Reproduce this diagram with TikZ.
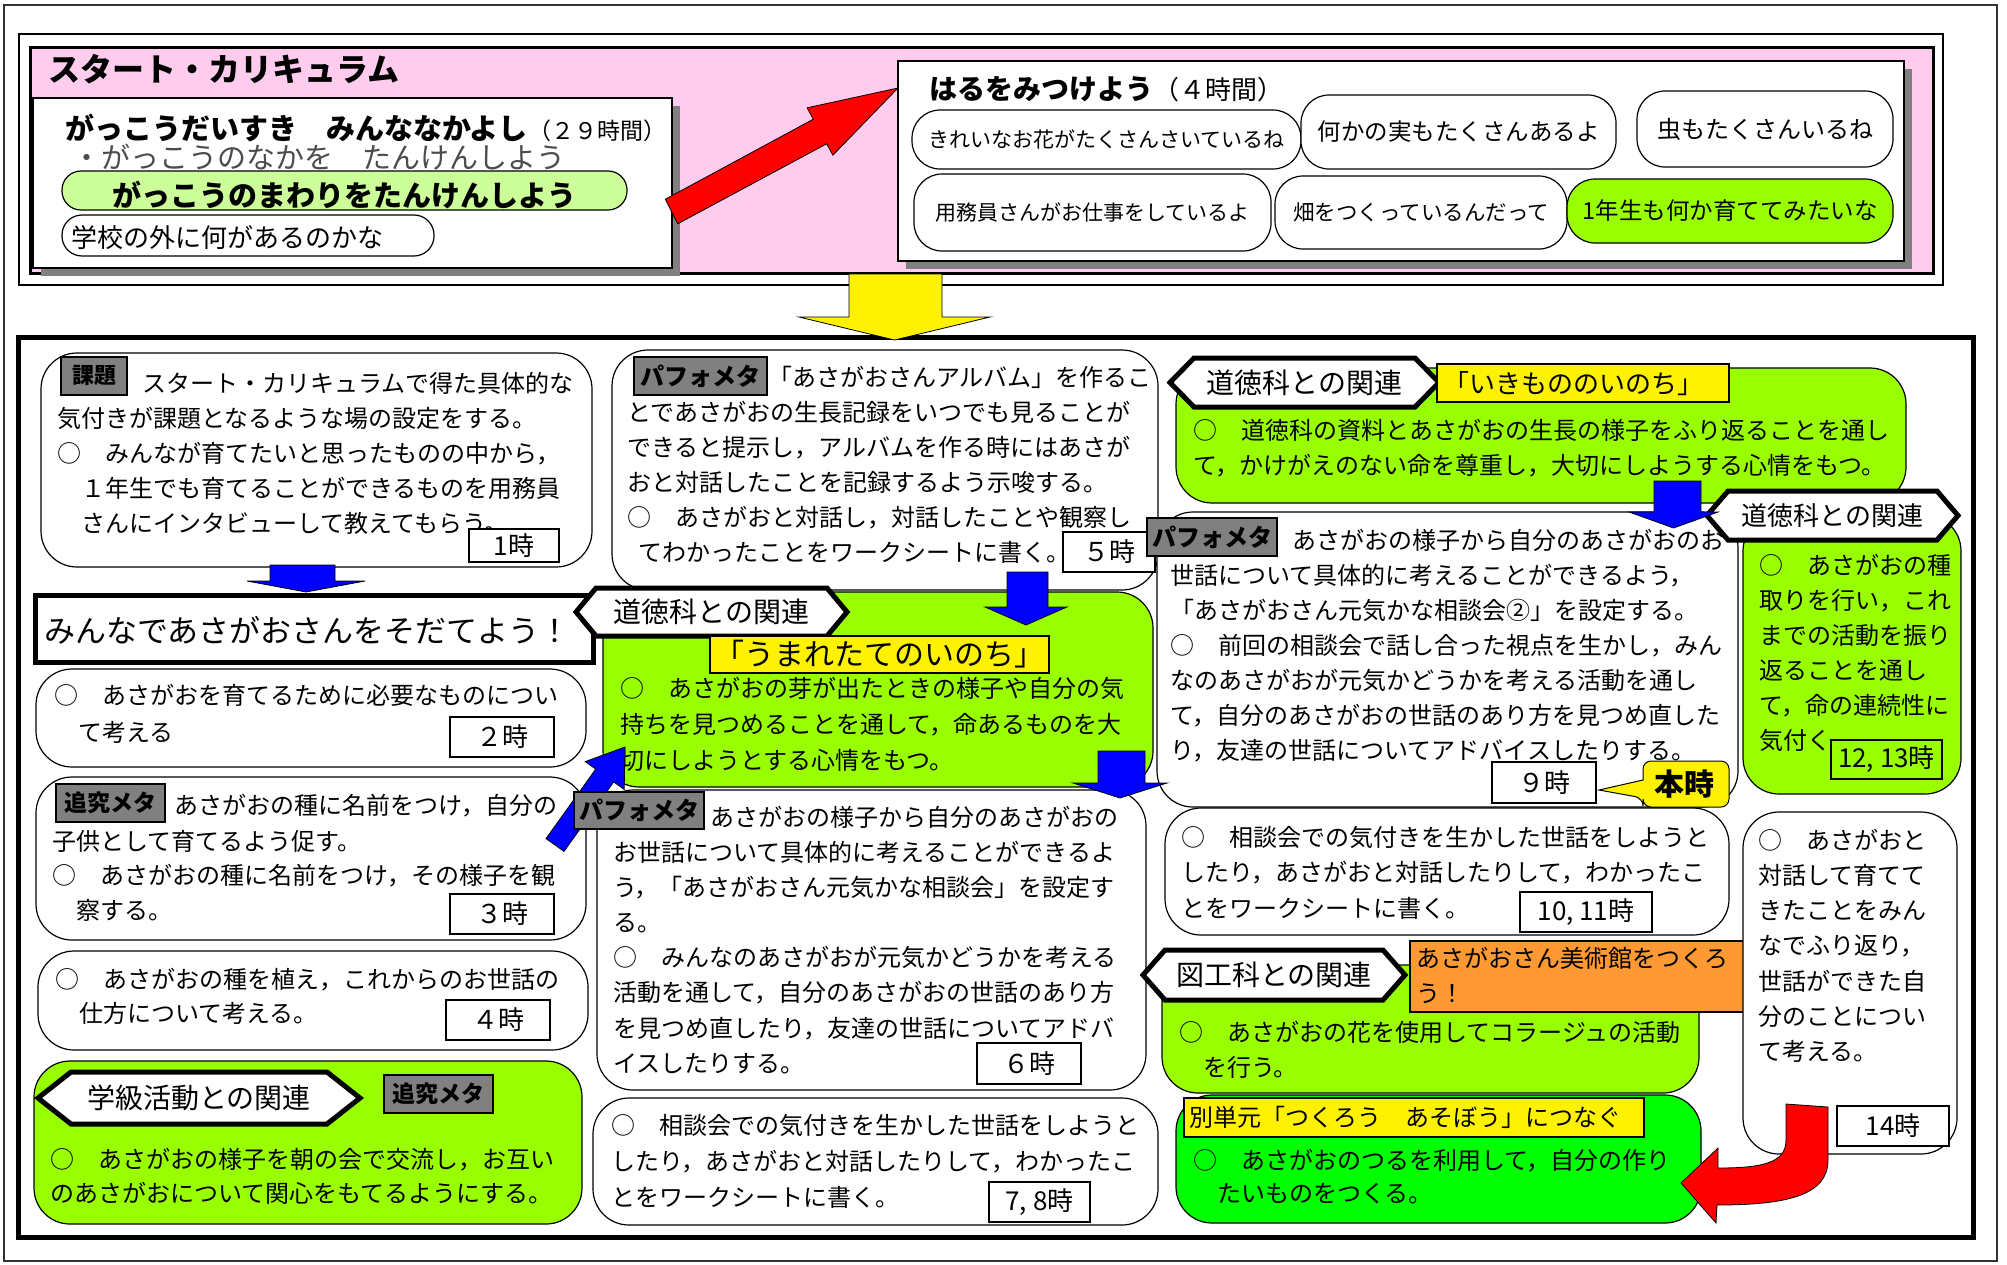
\documentclass[tikz,border=0pt]{standalone}
\usepackage{fontspec}
\setmainfont{Noto Sans CJK JP}
\usetikzlibrary{fit}
\definecolor{pinkbg}{HTML}{FFCCEE}
\definecolor{lgreen}{HTML}{99FF00}
\definecolor{pillgreen}{HTML}{CCFF99}
\definecolor{vgreen}{HTML}{00FF00}
\definecolor{metagray}{HTML}{808080}
\definecolor{artorange}{HTML}{FF9933}
\tikzstyle{kbox} = [draw, fill=white, rounded corners=36pt, line width=1.2pt, inner sep=0pt]
\tikzstyle{gbox} = [kbox, fill=lgreen]
\tikzstyle{pill} = [draw, fill=white, rounded corners=28pt, line width=1.2pt, inner sep=0pt]
\tikzstyle{tag} = [draw, line width=2pt, inner sep=0pt]
\tikzstyle{hour} = [tag, fill=white, font=\fontsize{26}{26}\selectfont]
\tikzstyle{meta} = [tag, fill=metagray, font=\bfseries\fontsize{23}{23}\selectfont]
\tikzstyle{txt} = [inner sep=0pt, anchor=base west, font=\fontsize{24}{24}\selectfont]
\tikzstyle{hexline} = [draw, fill=white, line width=5pt, line join=miter]
\tikzstyle{blk} = [draw, line width=0.8pt]
\tikzstyle{shadow} = [fill=metagray]
\newcommand{\txtrows}[5]{%
  \foreach \t [count=\i] in {#5}
    \node[txt] (#1-\i) at (#2,{#3+(\i-1)*#4}) {\t};}
\newcommand{\tagbox}[5]{%
  \node[#1, fit={#2 #3}] (#4) {};
  \node[#1, draw=none, fill=none, inner sep=0pt] (#4-t) at (#4.center) {#5};}
\newcommand{\hexlab}[8]{%
  \draw[hexline] (#2,{(#3+#5)/2}) -- (#2+#6,#3) -- (#4-#6,#3) -- (#4,{(#3+#5)/2}) -- (#4-#6,#5) -- (#2+#6,#5) -- cycle;
  \node[inner sep=0pt, font=\fontsize{#7}{#7}\selectfont] (#1) at ({(#2+#4)/2},{(#3+#5)/2}) {#8};}
\newcommand{\dnarrow}[8]{%
  \draw[blk, fill=#1] (#2,#4) -- (#3,#4) -- (#3,#7) -- (#6,#7) -- ({(#5+#6)/2},#8) -- (#5,#7) -- (#2,#7) -- cycle;}
\begin{document}
\begin{tikzpicture}[x=1pt, y=-1pt]
    \useasboundingbox (0,0) rectangle (2007,1264);
    \draw[line width=2.5pt, black!80] (4,5) rectangle (1997,1261);
    \draw[line width=2pt] (19,34) rectangle (1943,285);
    \draw[line width=3pt, fill=pinkbg] (30,47) rectangle (1933,273);
    \draw[line width=5pt] (18,337) rectangle (1973,1237);
    % start curriculum
    \node[inner sep=0pt, anchor=base west, font=\bfseries\fontsize{32}{32}\selectfont] (title) at (48,81) {スタート・カリキュラム};
    \fill[shadow] (41,106) rectangle (680,276);
    \node[tag, fill=white, line width=2.5pt, fit={(33,98) (672,268)}] (school) {};
    \node[inner sep=0pt, anchor=base west, font=\bfseries\fontsize{29}{29}\selectfont] (school-t) at (65,139) {がっこうだいすき　みんななかよし};
    \node[inner sep=0pt, anchor=base west, font=\fontsize{23}{23}\selectfont] (school-h) at (school-t.base east) {（２９時間）};
    \node[inner sep=0pt, anchor=base west, font=\fontsize{29}{29}\selectfont, text=black!70] (school-s) at (72,168) {・がっこうのなかを　たんけんしよう};
    \node[pill, fill=pillgreen, rounded corners=19pt, fit={(62,171) (627,210)}] (round) {};
    \node[inner sep=0pt, font=\bfseries\fontsize{29}{29}\selectfont] (round-t) at (344,195) {がっこうのまわりをたんけんしよう};
    \node[pill, rounded corners=20pt, fit={(62,215) (434,256)}] (outside) {};
    \node[txt, font=\fontsize{26}{26}\selectfont] (outside-t) at (71,247) {学校の外に何があるのかな};
    \draw[blk, fill=red] (665.3,199.2) -- (813.3,119.2) -- (807.1,107.8) -- (898,88) -- (832.9,155.2) -- (826.7,143.8) -- (677.7,223.8) -- cycle;
    \fill[shadow] (906,69) rectangle (1912,269);
    \node[tag, fill=white, line width=2.5pt, fit={(898,61) (1904,261)}] (spring) {};
    \node[inner sep=0pt, anchor=base west, font=\bfseries\fontsize{28}{28}\selectfont] (spring-t) at (929,99) {はるをみつけよう};
    \node[inner sep=0pt, anchor=base west, font=\fontsize{26}{26}\selectfont] (spring-h) at (spring-t.base east) {（４時間）};
    \tagbox{pill, font=\fontsize{21}{21}\selectfont}{(912,110)}{(1301,169)}{p1}{きれいなお花がたくさんさいているね}
    \tagbox{pill, font=\fontsize{23.5}{24}\selectfont}{(1301,95)}{(1616,169)}{p2}{何かの実もたくさんあるよ}
    \tagbox{pill, font=\fontsize{24}{24}\selectfont}{(1637,91)}{(1893,167)}{p3}{虫もたくさんいるね}
    \tagbox{pill, font=\fontsize{21}{21}\selectfont}{(914,174)}{(1271,251)}{p4}{用務員さんがお仕事をしているよ}
    \tagbox{pill, font=\fontsize{21.5}{22}\selectfont}{(1275,176)}{(1567,249)}{p5}{畑をつくっているんだって}
    \tagbox{pill, fill=lgreen, font=\fontsize{23.5}{24}\selectfont}{(1567,179)}{(1893,243)}{p6}{1年生も何か育ててみたいな}
    \dnarrow{yellow}{849}{942}{274}{799}{990}{317}{340}
    % left column
    \node[kbox, fit={(41,353) (592,567)}] (kadai) {};
    \tagbox{meta, font=\bfseries\fontsize{22}{22}\selectfont}{(61,357)}{(127,395)}{kadai-m}{課題}
    \node[txt] (kadai-0) at (142,392) {スタート・カリキュラムで得た具体的な};
    \txtrows{kadai}{57}{427}{35}{気付きが課題となるような場の設定をする。, ○　みんなが育てたいと思ったものの中から，, 　１年生でも育てることができるものを用務員, 　さんにインタビューして教えてもらう。}
    \tagbox{hour}{(469,529)}{(559,562)}{h1}{1時}
    \node[tag, fill=white, line width=5pt, fit={(35,595) (593,662)}] (theme) {};
    \node[txt, font=\fontsize{31}{31}\selectfont] (theme-t) at (44,642) {みんなであさがおさんをそだてよう！};
    \node[kbox, fit={(36,669) (586,767)}] (k2) {};
    \txtrows{k2}{54}{704}{37}{○　あさがおを育てるために必要なものについ, 　て考える}
    \tagbox{hour}{(450,717)}{(554,757)}{h2}{２時}
    \node[kbox, fit={(36,777) (586,940)}] (k3) {};
    \tagbox{meta}{(56,784)}{(165,822)}{k3-m}{追究メタ}
    \node[txt] (k3-0) at (174,814) {あさがおの種に名前をつけ，自分の};
    \txtrows{k3}{52}{850}{34.5}{子供として育てるよう促す。, ○　あさがおの種に名前をつけ，その様子を観, 　察する。}
    \tagbox{hour}{(450,894)}{(554,934)}{h3}{３時}
    \node[kbox, fit={(38,951) (588,1050)}] (k4) {};
    \txtrows{k4}{55}{988}{34}{○　あさがおの種を植え，これからのお世話の, 　仕方について考える。}
    \tagbox{hour}{(446,1000)}{(550,1040)}{h4}{４時}
    \node[gbox, fit={(34,1061) (582,1224)}] (k-class) {};
    \hexlab{class-h}{38}{1072}{360}{1124}{33}{28}{学級活動との関連}
    \tagbox{meta}{(384,1075)}{(493,1113)}{class-m}{追究メタ}
    \txtrows{class}{50}{1168}{34}{○　あさがおの様子を朝の会で交流し，お互い, のあさがおについて関心をもてるようにする。}
    % middle column
    \node[kbox, fit={(612,350) (1158,590)}] (k5) {};
    \tagbox{meta, font=\bfseries\fontsize{24}{24}\selectfont}{(634,357)}{(767,395)}{k5-m}{パフォメタ}
    \node[txt] (k5-0) at (768,386) {「あさがおさんアルバム」を作るこ};
    \txtrows{k5}{627}{421}{35}{とであさがおの生長記録をいつでも見ることが, できると提示し，アルバムを作る時にはあさが, おと対話したことを記録するよう示唆する。, ○　あさがおと対話し，対話したことや観察し, \hspace*{11pt}てわかったことをワークシートに書く。}
    \tagbox{hour}{(1063,532)}{(1155,572)}{h5}{５時}
    \node[gbox, fit={(603,592) (1153,787)}] (k-birth) {};
    \hexlab{birth-h}{576}{588}{847}{636}{20}{28}{道徳科との関連}
    \tagbox{tag, fill=yellow, font=\fontsize{30}{30}\selectfont}{(710,636)}{(1049,673)}{birth-l}{「うまれたてのいのち」}
    \txtrows{birth}{620}{697}{36}{○　あさがおの芽が出たときの様子や自分の気, 持ちを見つめることを通して，命あるものを大, 切にしようとする心情をもつ。}
    \node[kbox, fit={(597,790) (1146,1090)}] (k6) {};
    \node[txt] (k6-0) at (710,826) {あさがおの様子から自分のあさがおの};
    \txtrows{k6}{613}{861}{35.2}{お世話について具体的に考えることができるよ, う，「あさがおさん元気かな相談会」を設定す, る。, ○　みんなのあさがおが元気かどうかを考える, 活動を通して，自分のあさがおの世話のあり方, を見つめ直したり，友達の世話についてアドバ, イスしたりする。}
    \tagbox{hour}{(977,1043)}{(1081,1084)}{h6}{６時}
    \node[kbox, fit={(593,1098) (1158,1225)}] (k7) {};
    \txtrows{k7}{611}{1134}{36}{○　相談会での気付きを生かした世話をしようと, したり，あさがおと対話したりして，わかったこ, とをワークシートに書く。}
    \tagbox{hour}{(989,1182)}{(1090,1222)}{h7}{7, 8時}
    % right column
    \node[gbox, fit={(1176,368) (1906,503)}] (k-life) {};
    \hexlab{life-h}{1170}{358}{1439}{407}{24}{28}{道徳科との関連}
    \node[tag, fill=yellow, fit={(1437,364) (1729,402)}] (life-l) {};
    \node[txt, font=\fontsize{26}{26}\selectfont] (life-t) at (1443,393) {「いきもののいのち」};
    \txtrows{life}{1193}{439}{35}{○　道徳科の資料とあさがおの生長の様子をふり返ることを通し, て，かけがえのない命を尊重し，大切にしようする心情をもつ。}
    \node[kbox, fit={(1157,512) (1738,807)}] (k9) {};
    \tagbox{meta, font=\bfseries\fontsize{24}{24}\selectfont}{(1147,518)}{(1277,556)}{k9-m}{パフォメタ}
    \node[txt] (k9-0) at (1292,549) {あさがおの様子から自分のあさがおのお};
    \txtrows{k9}{1170}{584}{35}{世話について具体的に考えることができるよう，, 「あさがおさん元気かな相談会②」を設定する。, ○　前回の相談会で話し合った視点を生かし，みん, なのあさがおが元気かどうかを考える活動を通し, て，自分のあさがおの世話のあり方を見つめ直した, り，友達の世話についてアドバイスしたりする。}
    \tagbox{hour}{(1492,762)}{(1596,803)}{h9}{９時}
    \draw[blk, line width=1pt, fill=yellow, rounded corners=8pt] (1643,780) -- (1643,761) -- (1729,761) -- (1729,807) -- (1643,807) -- (1643,798) [sharp corners] -- (1599,790) -- cycle;
    \node[inner sep=0pt, font=\bfseries\fontsize{30}{30}\selectfont] (now) at (1684,784) {本時};
    \node[gbox, fit={(1743,515) (1961,794)}] (k-seed) {};
    \hexlab{seed-h}{1707}{491}{1958}{540}{21}{26}{道徳科との関連}
    \txtrows{seed}{1759}{574}{35}{○　あさがおの種, 取りを行い，これ, までの活動を振り, 返ることを通し, て，命の連続性に, 気付く。}
    \tagbox{hour, fill=lgreen}{(1831,740)}{(1942,779)}{h12}{12, 13時}
    \node[kbox, fit={(1165,808) (1729,935)}] (k10) {};
    \txtrows{k10}{1181}{846}{35.5}{○　相談会での気付きを生かした世話をしようと, したり，あさがおと対話したりして，わかったこ, とをワークシートに書く。}
    \tagbox{hour}{(1520,892)}{(1652,932)}{h10}{10, 11時}
    \node[gbox, fit={(1162,965) (1699,1093)}] (k-art) {};
    \hexlab{art-h}{1143}{950}{1405}{1000}{22}{28}{図工科との関連}
    \node[tag, fill=artorange, fit={(1410,941) (1744,1012)}] (art-l) {};
    \txtrows{art-l}{1416}{967}{35}{あさがおさん美術館をつくろ, う！}
    \txtrows{art}{1179}{1041}{35}{○　あさがおの花を使用してコラージュの活動, 　を行う。}
    \node[gbox, fill=vgreen, fit={(1176,1095) (1701,1223)}] (k-play) {};
    \node[tag, fill=yellow, fit={(1184,1098) (1644,1137)}] (play-l) {};
    \node[txt] (play-t) at (1189,1126) {別単元「つくろう　あそぼう」につなぐ};
    \txtrows{play}{1193}{1169}{33}{○　あさがおのつるを利用して，自分の作り, 　たいものをつくる。}
    \node[kbox, fit={(1743,812) (1957,1154)}] (k14) {};
    \txtrows{k14}{1758}{849}{35.3}{○　あさがおと, 対話して育てて, きたことをみん, なでふり返り，, 世話ができた自, 分のことについ, て考える。}
    \tagbox{hour}{(1837,1106)}{(1949,1146)}{h14}{14時}
    % arrows
    \dnarrow{blue}{270}{335}{565}{247}{365}{581}{592}
    \dnarrow{blue}{1007}{1048}{572}{985}{1067}{607}{625}
    \dnarrow{blue}{1098}{1145}{751}{1073}{1167}{783}{798}
    \dnarrow{blue}{1654}{1701}{481}{1629}{1718}{512}{528}
    \draw[blk, fill=blue] (546,838.6) -- (595.7,769.1) -- (585.2,761.6) -- (625,747) -- (624.2,789.4) -- (613.7,781.9) -- (564,851.4) -- cycle;
    \draw[blk, fill=red] (1786,1104) -- (1828,1107) -- (1828,1160) .. controls (1828,1195) and (1788,1205) .. (1717,1205) -- (1716,1223) -- (1681,1183) -- (1718,1148) -- (1718,1168) .. controls (1765,1168) and (1786,1162) .. (1786,1140) -- cycle;
    \tagbox{meta, font=\bfseries\fontsize{24}{24}\selectfont}{(574,792)}{(704,829)}{k6-m}{パフォメタ}
\end{tikzpicture}
\end{document}
